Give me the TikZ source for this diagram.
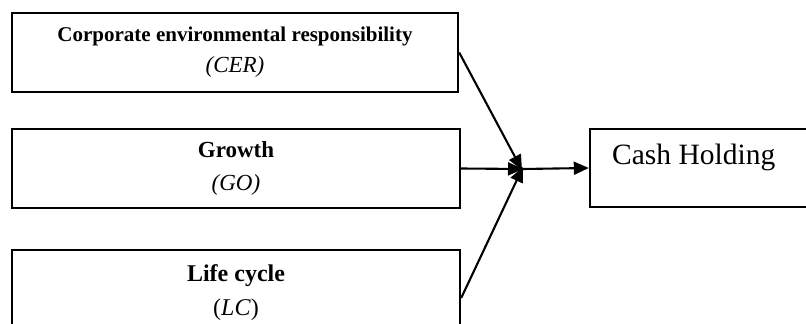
\documentclass[tikz,border=0pt]{standalone}
\usepackage{fontspec}
\setmainfont{Liberation Serif}
\usetikzlibrary{arrows.meta}
\tikzset{
  box/.style={draw=black, line width=2.4pt, rectangle, inner sep=0pt, align=center},
  conn/.style={line width=2.1pt, -{Triangle[length=15pt,width=13pt]}},
}
\begin{document}
\begin{tikzpicture}[x=1pt,y=-1pt]
\useasboundingbox (0,0) rectangle (806,324);
\clip (0,0) rectangle (806,324);
\fill[white] (0,0) rectangle (806,324);
\node[box, minimum width=446pt, minimum height=79pt, font=\fontsize{21}{31}\selectfont] (cer) at (235,52.5)
  {\textbf{Corporate environmental responsibility}\\{\fontsize{23}{31}\selectfont\itshape (CER)}};
\node[box, minimum width=448pt, minimum height=79pt, font=\fontsize{23}{33}\selectfont] (go) at (236,168.5)
  {\textbf{Growth}\\{\itshape (GO)}};
\node[box, minimum width=448pt, minimum height=86pt, font=\fontsize{24}{34}\selectfont] (lc) at (236,293)
  {\textbf{Life cycle}\\(\textit{LC})};
\node[box, minimum width=224pt, minimum height=78pt] (cash) at (702,168) {};
\node[anchor=base west, inner sep=0pt, font=\fontsize{29.5}{34}\selectfont] (cashtxt) at (612,164) {Cash Holding};
\coordinate (j) at (523,169);
\draw[conn] (cer.east) -- ([xshift=-1pt,yshift=-1pt]j);
\draw[conn] (go.east) -- (j);
\draw[conn] ([yshift=-5pt]lc.east) -- ([yshift=2pt]j);
\draw[conn] (j) -- (cash.west);
\end{tikzpicture}
\end{document}
